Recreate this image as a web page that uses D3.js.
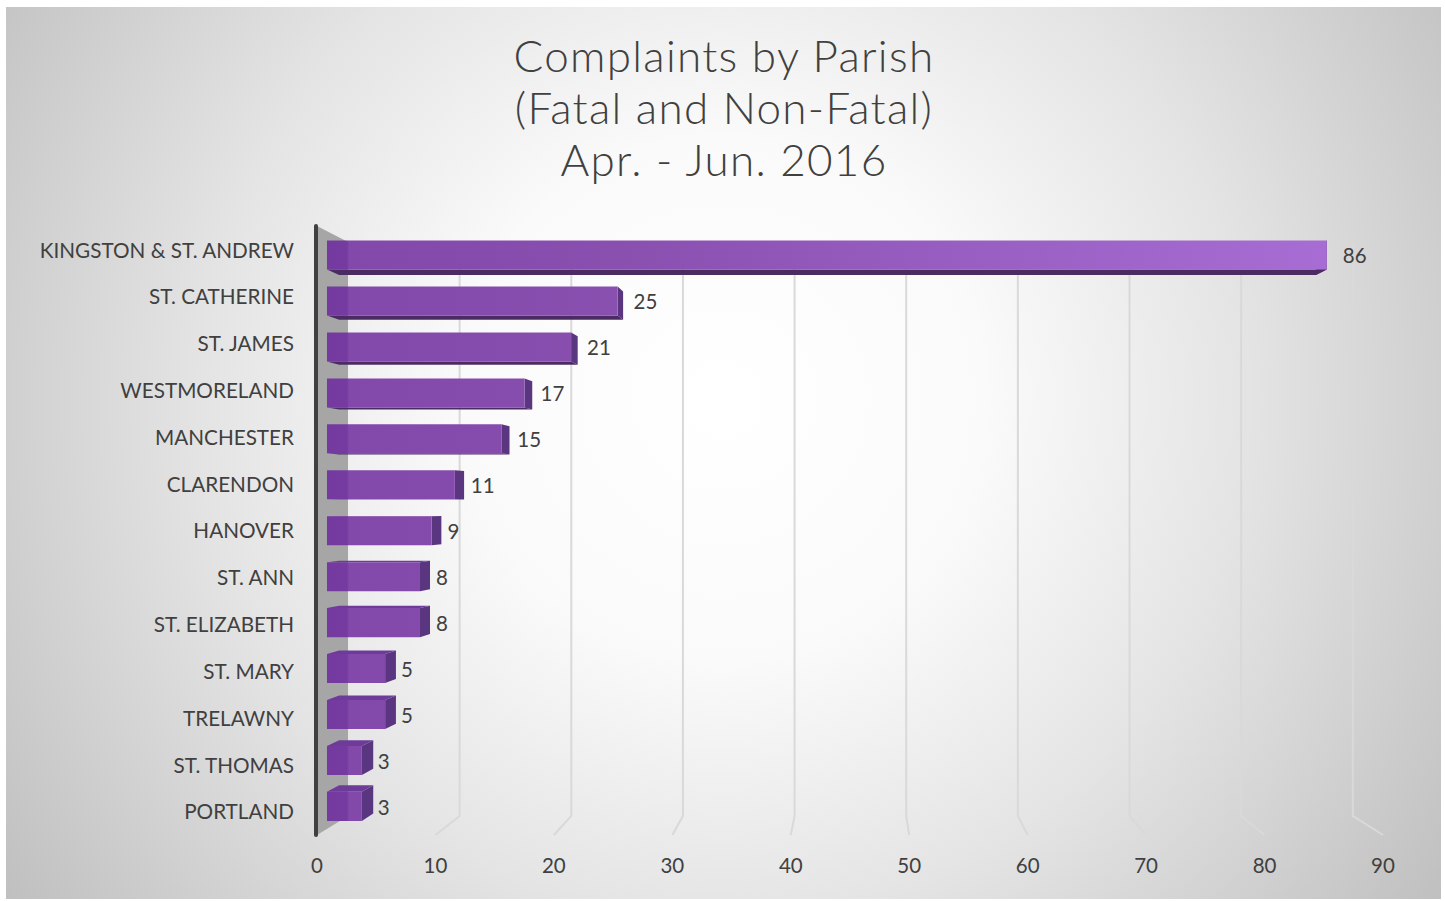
<!DOCTYPE html>
<html lang="en">
    <head>
        <meta charset="utf-8">
        <title>Complaints by Parish</title>
        <script type="text/javascript" src="https://cdn.jsdelivr.net/npm/d3@7"></script>
        <style type="text/css">
            body { margin: 0; background: #ffffff; }
            svg { display: block; }
        </style>
    </head>
    <body>
        <script type="text/javascript">
            var w = 1445;
            var h = 901;

            // Data
            var categories = ["KINGSTON & ST. ANDREW", "ST. CATHERINE", "ST. JAMES", "WESTMORELAND",
                "MANCHESTER", "CLARENDON", "HANOVER", "ST. ANN", "ST. ELIZABETH", "ST. MARY",
                "TRELAWNY", "ST. THOMAS", "PORTLAND"];
            var values = [86, 25, 21, 17, 15, 11, 9, 8, 8, 5, 5, 3, 3];
            var xTicks = [0, 10, 20, 30, 40, 50, 60, 70, 80, 90];
            var titleLines = ["Complaints by Parish", "(Fatal and Non-Fatal)", "Apr. - Jun. 2016"];

            // front plane scales, everything else is pushed back toward the vanishing point
            var xScale = d3.scaleLinear().domain([0, 90]).range([317, 1383]);
            var yScale = d3.scaleBand().domain(categories)
                .range([227, 835.5]).paddingInner(0.368).paddingOuter(0.184);

            var vp = {x: 857, y: 503};
            var S_BAR0 = 0.9815, S_BAR1 = 0.959, S_BACK = 0.9426;
            var wallTop = 226, wallBottom = 835;

            function P(x, y, s) {
                return [vp.x + s * (x - vp.x), vp.y + s * (y - vp.y)];
            }
            function poly(pts) {
                return pts.map(function(p) { return p[0].toFixed(2) + "," + p[1].toFixed(2); }).join(" ");
            }

            var svg = d3.select("body").append("svg")
                .attr("width", w)
                .attr("height", h);

            var defs = svg.append("defs");
            var bg = defs.append("radialGradient").attr("id", "bg")
                .attr("gradientUnits", "userSpaceOnUse")
                .attr("cx", 724).attr("cy", 400).attr("r", 870);
            bg.append("stop").attr("offset", 0).attr("stop-color", "#ffffff");
            bg.append("stop").attr("offset", 0.3).attr("stop-color", "#fafafa");
            bg.append("stop").attr("offset", 0.6).attr("stop-color", "#e4e4e4");
            bg.append("stop").attr("offset", 1).attr("stop-color", "#c0c0c0");

            var barGrad = defs.append("linearGradient").attr("id", "barGrad")
                .attr("gradientUnits", "userSpaceOnUse")
                .attr("x1", 327).attr("x2", 1330).attr("y1", 0).attr("y2", 0);
            barGrad.append("stop").attr("offset", 0).attr("stop-color", "#743a9f");
            barGrad.append("stop").attr("offset", 0.02).attr("stop-color", "#763ba1");
            barGrad.append("stop").attr("offset", 0.022).attr("stop-color", "#8248aa");
            barGrad.append("stop").attr("offset", 0.3).attr("stop-color", "#8a50b0");
            barGrad.append("stop").attr("offset", 1).attr("stop-color", "#a86dd4");

            // chart area
            svg.append("rect")
                .attr("x", 6).attr("y", 7)
                .attr("width", 1435).attr("height", 892)
                .attr("fill", "url(#bg)");

            // title
            svg.append("text")
                .attr("x", 724)
                .attr("font-family", "Lato, sans-serif")
                .attr("font-weight", 300)
                .attr("font-size", "44px")
                .attr("letter-spacing", "1.3px")
                .attr("fill", "#404040")
                .attr("text-anchor", "middle")
                .selectAll("tspan")
                .data(titleLines)
                .enter()
                .append("tspan")
                .attr("x", 724)
                .attr("y", function(d, i) { return 72 + i * 52; })
                .text(function(d) { return d; });

            // back wall gridlines + floor lines
            var grid = svg.append("g").attr("stroke", "#d9d9d9").attr("stroke-width", 2).attr("fill", "none");
            grid.selectAll("polyline")
                .data(xTicks.slice(1))
                .enter()
                .append("polyline")
                .attr("points", function(d) {
                    var x = xScale(d);
                    return poly([P(x, wallTop, S_BACK), P(x, wallBottom, S_BACK), P(x, wallBottom, 1)]);
                });

            // side wall
            var x0 = xScale(0);
            svg.append("polygon")
                .attr("points", poly([P(x0, wallTop, 1), P(x0, wallTop, S_BACK), P(x0, wallBottom, S_BACK), P(x0, wallBottom, 1)]))
                .attr("fill", "#a6a6a6");
            svg.append("line")
                .attr("x1", x0 - 1).attr("x2", x0 - 1)
                .attr("y1", wallTop).attr("y2", wallBottom)
                .attr("stroke", "#404040")
                .attr("stroke-width", 4)
                .attr("stroke-linecap", "round");

            // bars
            var bars = svg.selectAll("g.bar")
                .data(values)
                .enter()
                .append("g")
                .attr("class", "bar");

            bars.each(function(d, i) {
                var g = d3.select(this);
                var y0 = yScale(categories[i]);
                var y1 = y0 + yScale.bandwidth();
                var xv = xScale(d);
                // right side
                g.append("polygon")
                    .attr("points", poly([P(xv, y0, S_BAR0), P(xv, y0, S_BAR1), P(xv, y1, S_BAR1), P(xv, y1, S_BAR0)]))
                    .attr("fill", "#5b3680");
                if ((y0 + y1) / 2 < vp.y) {
                    g.append("polygon")
                        .attr("points", poly([P(x0, y1, S_BAR0), P(xv, y1, S_BAR0), P(xv, y1, S_BAR1), P(x0, y1, S_BAR1)]))
                        .attr("fill", "#4a2c63");
                } else {
                    g.append("polygon")
                        .attr("points", poly([P(x0, y0, S_BAR0), P(xv, y0, S_BAR0), P(xv, y0, S_BAR1), P(x0, y0, S_BAR1)]))
                        .attr("fill", "#6d3b98");
                }
                g.append("polygon")
                    .attr("points", poly([P(x0, y0, S_BAR0), P(xv, y0, S_BAR0), P(xv, y1, S_BAR0), P(x0, y1, S_BAR0)]))
                    .attr("fill", "url(#barGrad)");
            });

            // value labels
            svg.selectAll("text.value")
                .data(values)
                .enter()
                .append("text")
                .attr("class", "value")
                .attr("x", function(d) { return P(xScale(d), 0, S_BAR0)[0] + 16; })
                .attr("y", function(d, i) {
                    return P(0, yScale(categories[i]) + yScale.bandwidth() / 2, S_BAR0)[1] + 1;
                })
                .attr("dy", "0.35em")
                .attr("font-family", "Lato, sans-serif")
                .attr("font-size", "20.5px")
                .attr("fill", "#404040")
                .text(function(d) { return d; });

            // category labels
            svg.selectAll("text.cat")
                .data(categories)
                .enter()
                .append("text")
                .attr("class", "cat")
                .attr("x", 294)
                .attr("y", function(d) { return yScale(d) + yScale.bandwidth() / 2; })
                .attr("dy", "0.35em")
                .attr("text-anchor", "end")
                .attr("font-family", "Lato, sans-serif")
                .attr("font-size", "20.7px")
                .attr("fill", "#404040")
                .text(function(d) { return d; });

            // x tick labels
            svg.selectAll("text.tick")
                .data(xTicks)
                .enter()
                .append("text")
                .attr("class", "tick")
                .attr("x", function(d) { return xScale(d); })
                .attr("y", 866)
                .attr("dy", "0.35em")
                .attr("text-anchor", "middle")
                .attr("font-family", "Lato, sans-serif")
                .attr("font-size", "20.5px")
                .attr("fill", "#404040")
                .text(function(d) { return d; });
        </script>
    </body>
</html>
